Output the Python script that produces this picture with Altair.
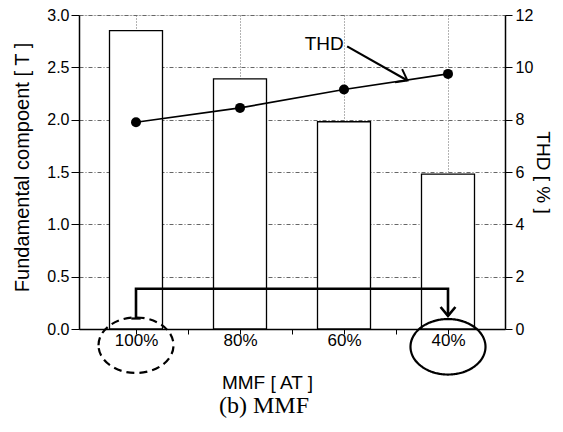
import json
import altair as alt
import pandas as pd

# ---- data ----
categories = ["100%", "80%", "60%", "40%"]
idx = [0, 1, 2, 3]
fundamental = [2.85, 2.39, 1.98, 1.48]   # [T]
thd = [7.9, 8.45, 9.15, 9.75]            # [%]

# annotation geometry in data units (x = category index, y = Tesla)
bracket_x = [0, 0, 3, 3]
bracket_y = [0.10, 0.385, 0.385, 0.125]
bracket_order = [0, 1, 2, 3]
cap_x = [-0.045]
cap_x2 = [0.045]
cap_y = [0.10]
thd_arrow_x = [2.03, 2.61]
thd_arrow_y = [2.70, 2.375]
thd_label_x = [1.81]
thd_label_y = [2.72]
ell_x = [0, 3]
ell_y = [-0.155, -0.17]
ell_dash = ["dash", "solid"]

y_ticks_T = [0, 0.25, 0.5, 0.75, 1.0, 1.25, 1.5, 1.75, 2.0, 2.25, 2.5, 2.75, 3.0]
y_ticks_thd = [0, 1, 2, 3, 4, 5, 6, 7, 8, 9, 10, 11, 12]
x_ticks = [0, 0.5, 1, 1.5, 2, 2.5, 3]

df = pd.DataFrame({"idx": idx, "cat": categories, "T": fundamental, "THD": thd})
df_bracket = pd.DataFrame({"x": bracket_x, "y": bracket_y, "o": bracket_order})
df_cap = pd.DataFrame({"x": cap_x, "x2": cap_x2, "y": cap_y})
df_arrow = pd.DataFrame({"x": thd_arrow_x, "y": thd_arrow_y, "o": [0, 1]})
df_arrow_head = df_arrow.iloc[[1]]
df_down_head = pd.DataFrame({"x": [bracket_x[-1]], "y": [bracket_y[-1]]})
df_label = pd.DataFrame({"x": thd_label_x, "y": thd_label_y, "t": ["THD"]})
df_ell = pd.DataFrame({"x": ell_x, "y": ell_y, "d": ell_dash})

FONT = "Liberation Sans"
GRIDC = "#666666"

xscale = alt.Scale(domain=[-0.5, 3.5], nice=False, zero=False)
yscale_T = alt.Scale(domain=[0, 3], nice=False)
yscale_thd = alt.Scale(domain=[0, 12], nice=False)

x_axis = alt.Axis(
    values=x_ticks,
    labelExpr=f"datum.value % 1 == 0 ? {json.dumps(categories)}[datum.value] : ''",
    tickSize=5, tickColor="black", domainColor="black", domainWidth=1.5,
    labelFontSize=17, labelPadding=-2, labelOverlap=False, labelFlush=False,
    grid=True, gridColor=GRIDC, gridDash=[1, 2],
    gridOpacity={"condition": {"test": "datum.value % 1 != 0", "value": 0}, "value": 1},
    title="MMF [ AT ]", titleFontSize=19, titleFontWeight="normal", titlePadding=25,
    titleX=188, titleAnchor="start", titleAlign="center",
)

y_axis_T = alt.Axis(
    orient="left", values=y_ticks_T,
    labelExpr="(datum.value * 4) % 2 == 0 ? format(datum.value, '.1f') : ''",
    tickSize={"condition": {"test": "(datum.value * 4) % 2 != 0", "value": 4}, "value": 8},
    tickColor="black", domainColor="black", domainWidth=1.5,
    labelFontSize=16, labelPadding=2, labelOverlap=False, labelFlush=False,
    grid=True, gridColor=GRIDC, gridDash=[4, 2, 1, 2],
    gridOpacity={"condition": {"test": "(datum.value * 4) % 2 != 0", "value": 0}, "value": 1},
    title="Fundamental compoent [ T ]", titleFontSize=20, titleFontWeight="normal",
    titlePadding=14, titleAnchor="start", titleY=152, titleAlign="center",
)

y_axis_thd = alt.Axis(
    orient="right", values=y_ticks_thd,
    labelExpr="datum.value % 2 == 0 ? datum.value : ''",
    tickSize={"condition": {"test": "datum.value % 2 != 0", "value": 4}, "value": 7},
    tickColor="black", domainColor="black", domainWidth=1.5,
    labelFontSize=16, labelPadding=3, labelOverlap=False, labelFlush=False,
    grid=False,
    title="THD [ % ]", titleFontSize=19, titleFontWeight="normal", titleAngle=90,
    titleBaseline="bottom", titlePadding=0,
)

bars = alt.Chart(df).mark_bar(
    width=53, fill="white", stroke="black", strokeWidth=1.3
).encode(
    x=alt.X("idx:Q", scale=xscale, axis=x_axis),
    y=alt.Y("T:Q", scale=yscale_T, axis=y_axis_T),
)

bracket = alt.Chart(df_bracket).mark_line(color="black", strokeWidth=2.6).encode(
    x=alt.X("x:Q", scale=xscale), y=alt.Y("y:Q", scale=yscale_T), order="o:Q"
)
cap = alt.Chart(df_cap).mark_rule(color="black", strokeWidth=2.2).encode(
    x=alt.X("x:Q", scale=xscale), x2="x2:Q", y=alt.Y("y:Q", scale=yscale_T)
)
down_head = alt.Chart(df_down_head).mark_point(
    shape="M -1 -1.2 L 0 0 L 1 -1.2", filled=False, stroke="black",
    strokeWidth=2.6, size=220, opacity=1
).encode(x=alt.X("x:Q", scale=xscale), y=alt.Y("y:Q", scale=yscale_T))

arrow = alt.Chart(df_arrow).mark_line(color="black", strokeWidth=2.2).encode(
    x=alt.X("x:Q", scale=xscale), y=alt.Y("y:Q", scale=yscale_T), order="o:Q"
)
arrow_head = alt.Chart(df_arrow_head).mark_point(
    shape="M -1 -0.75 L 0 0 L -1 0.75", filled=False, stroke="black",
    strokeWidth=2.0, size=400, angle=28, opacity=1
).encode(x=alt.X("x:Q", scale=xscale), y=alt.Y("y:Q", scale=yscale_T))

label = alt.Chart(df_label).mark_text(
    font=FONT, fontSize=19, color="black", align="center", baseline="middle"
).encode(x=alt.X("x:Q", scale=xscale), y=alt.Y("y:Q", scale=yscale_T), text="t:N")

ELL = "M -1 0 A 1 0.74 0 1 1 1 0 A 1 0.74 0 1 1 -1 0 Z"
ellipses = alt.Chart(df_ell).mark_point(
    shape=ELL, filled=False, stroke="black", strokeWidth=2.2, size=5625, opacity=1
).encode(
    x=alt.X("x:Q", scale=xscale), y=alt.Y("y:Q", scale=yscale_T),
    strokeDash=alt.StrokeDash("d:N", scale=alt.Scale(domain=["dash", "solid"],
                                                      range=[[8, 5], [1, 0]]), legend=None),
)

left_layer = alt.layer(bars, bracket, cap, down_head, arrow, arrow_head, label, ellipses)

thd_line = alt.Chart(df).mark_line(color="black", strokeWidth=1.6).encode(
    x=alt.X("idx:Q", scale=xscale),
    y=alt.Y("THD:Q", scale=yscale_thd, axis=y_axis_thd),
)
thd_pts = alt.Chart(df).mark_point(
    filled=True, color="black", size=100, opacity=1, shape="circle"
).encode(
    x=alt.X("idx:Q", scale=xscale),
    y=alt.Y("THD:Q", scale=yscale_thd),
)
right_layer = alt.layer(thd_line, thd_pts)

chart = alt.layer(left_layer, right_layer).resolve_scale(y="independent").properties(
    width=426, height=314,
    autosize=alt.AutoSizeParams(type="none"),
    padding={"left": 71, "top": 7, "right": 50, "bottom": 100},
    title=alt.TitleParams(
        "(b)  MMF", orient="bottom", font="Liberation Serif", fontSize=24,
        fontWeight="normal", color="black", anchor="middle", dx=-28, offset=2,
    ),
).configure_view(stroke="black", strokeWidth=1.5).configure_axis(
    labelFont=FONT, titleFont=FONT, labelColor="black", titleColor="black",
    titleFontWeight="normal",
).configure(background="white")

chart.save("out.html", embed_options={"renderer": "svg", "actions": False})
